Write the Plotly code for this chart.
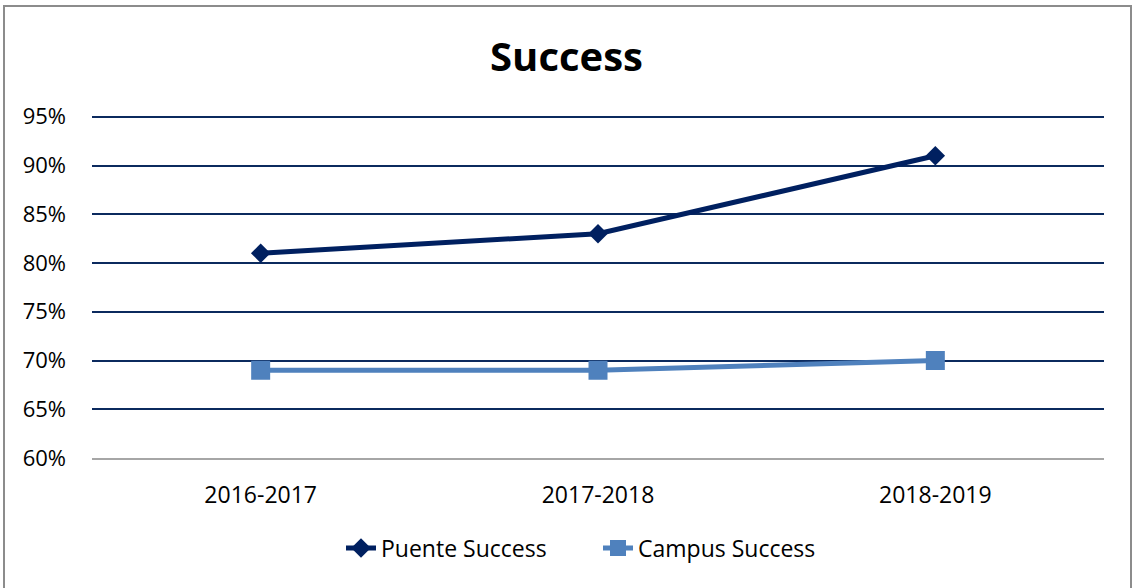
import plotly.graph_objects as go

years = ["2016-2017", "2017-2018", "2018-2019"]
puente_success = [0.81, 0.83, 0.91]
campus_success = [0.69, 0.69, 0.70]

W, H = 1133, 588
L, R, T, B = 92, 29, 107, 130
pw, ph = W - L - R, H - T - B

fig = go.Figure()
fig.add_trace(go.Scatter(
    x=years, y=puente_success, name="Puente Success",
    mode="lines+markers",
    line=dict(color="#002060", width=5),
    marker=dict(symbol="diamond", size=15, color="#002060"),
))
fig.add_trace(go.Scatter(
    x=years, y=campus_success, name="Campus Success",
    mode="lines+markers",
    line=dict(color="#4f81bd", width=5),
    marker=dict(symbol="square", size=19, color="#4f81bd"),
))

fig.update_layout(
    width=W, height=H,
    margin=dict(l=L, r=R, t=T, b=B),
    paper_bgcolor="white", plot_bgcolor="white",
    font=dict(family="Open Sans", size=23, color="black"),
    title=dict(text="<b>Success</b>", x=0.5, xanchor="center",
               y=1 - 57 / H, yanchor="middle", font=dict(size=40)),
    showlegend=True,
    legend=dict(orientation="h", x=0.5, xanchor="center",
                y=(458 - 548) / ph, yanchor="middle",
                font=dict(size=23), entrywidth=212),
    shapes=[dict(type="rect", xref="paper", yref="paper",
                 x0=(4 - L) / pw, x1=(W - 2 - L) / pw,
                 y0=-(H + 5 - T - ph) / ph, y1=(T - 6) / ph + 1,
                 line=dict(color="#8c8c8c", width=2), layer="below")],
)
fig.update_xaxes(
    type="category", range=[-0.5, 2.5],
    showgrid=False, showline=True, linecolor="#a6a6a6", linewidth=1.5,
    ticks="", ticklabelstandoff=16,
)
fig.update_yaxes(
    range=[0.60, 0.96], tickvals=[0.60, 0.65, 0.70, 0.75, 0.80, 0.85, 0.90, 0.95],
    tickformat=".0%", tickfont=dict(size=22),
    showgrid=True, gridcolor="#0b2a5e", gridwidth=1.5,
    zeroline=False, showline=False, ticks="", ticklabelstandoff=25,
)

fig.write_html("out.html", config={"displayModeBar": False},
               post_script="document.body.style.margin='0';")
